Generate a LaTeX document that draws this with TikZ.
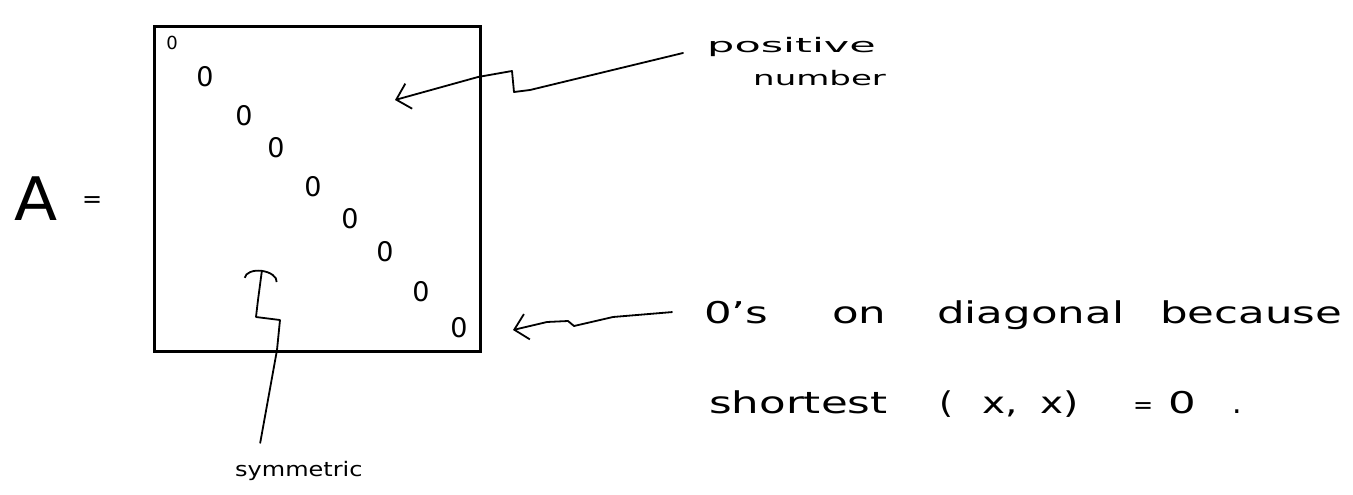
\documentclass[tikz,border=0pt]{standalone}
\usepackage{graphicx}
\usepackage{fontspec}
\setmainfont{DejaVu Sans}
\usetikzlibrary{arrows.meta}
\newcommand\hwtext[3]{\fontsize{#1}{#1}\selectfont\scalebox{#2}[1]{#3}}
\begin{document}
\begin{tikzpicture}[x=1pt,y=-1pt,
  hw/.style={inner sep=0pt, anchor=base west},
  zero/.style={inner sep=0pt, font=\fontsize{27}{27}\selectfont},
  conn/.style={line width=1.8pt, line join=round, line cap=round},
  boxline/.style={draw, line width=3pt},
]
\useasboundingbox (0,0) rectangle (1353,495);
% matrix box
\node[boxline, minimum width=326pt, minimum height=325pt, anchor=north west, inner sep=0pt] (M) at (153,25) {};
% A =
\node[hw] (A) at (14,220) {\hwtext{60}{1.05}{A}};
\node[hw] (eq) at (82,207) {\hwtext{24}{1}{=}};
% diagonal zeros
\node[zero, font=\fontsize{18}{18}\selectfont] (z1) at (172,43) {0};
\node[zero] (z2) at (205,77) {0};
\node[zero] (z3) at (244,116) {0};
\node[zero] (z4) at (276,148) {0};
\node[zero] (z5) at (313,187) {0};
\node[zero] (z6) at (350,219) {0};
\node[zero] (z7) at (385,252) {0};
\node[zero] (z8) at (421,292) {0};
\node[zero] (z9) at (459,328) {0};
% positive number
\node[hw, inner xsep=24pt] (pos) at (683,53) {\hwtext{20}{2.15}{positive}};
\node[hw] (num) at (753,85) {\hwtext{20}{1.7}{number}};
\coordinate (tipP) at (395,100);
\draw[conn,-{Straight Barb[length=13pt,width=26pt]}] (pos.base west) -- (530,90) -- (514,92) -- (512,71) -- (478,77) -- (tipP);
% 0's on diagonal because
\node[hw, inner xsep=32pt] (zs) at (672,323) {\hwtext{30}{1.45}{0's}};
\node[hw] (on) at (832,323) {\hwtext{30}{1.45}{on}};
\node[hw] (diag) at (937,323) {\hwtext{30}{1.45}{diagonal}};
\node[hw] (bec) at (1160,323) {\hwtext{30}{1.45}{because}};
\coordinate (tipB) at (513,330);
\draw[conn,-{Straight Barb[length=13pt,width=26pt]}] (zs.west) -- (613,317) -- (574,326) -- (568,321) -- (547,322) -- (tipB);
% shortest (x,x) = 0.
\node[hw] (sh) at (709,413) {\hwtext{30}{1.45}{shortest}};
\node[hw] (lp) at (939,413) {\hwtext{30}{1.2}{(}};
\node[hw] (x1) at (982,413) {\hwtext{30}{1.3}{x,}};
\node[hw] (x2) at (1040,413) {\hwtext{30}{1.3}{x)}};
\node[hw] (eq2) at (1133,413) {\hwtext{24}{1}{=}};
\node[hw] (z0) at (1168,413) {\hwtext{30}{1.45}{0}};
\node[hw] (dot) at (1232,413) {\hwtext{30}{1}{.}};
% symmetric
\node[hw] (sym) at (235,476) {\hwtext{20}{1.2}{symmetric}};
\coordinate (tipS) at (262,270);
\draw[conn, shorten <=18pt, -{Arc Barb[length=10pt,width=34pt]}] ([xshift=22pt]sym.north west) -- (277,350) -- (280,320) -- (256,317) -- (258,300) -- (tipS);
\end{tikzpicture}
\end{document}
